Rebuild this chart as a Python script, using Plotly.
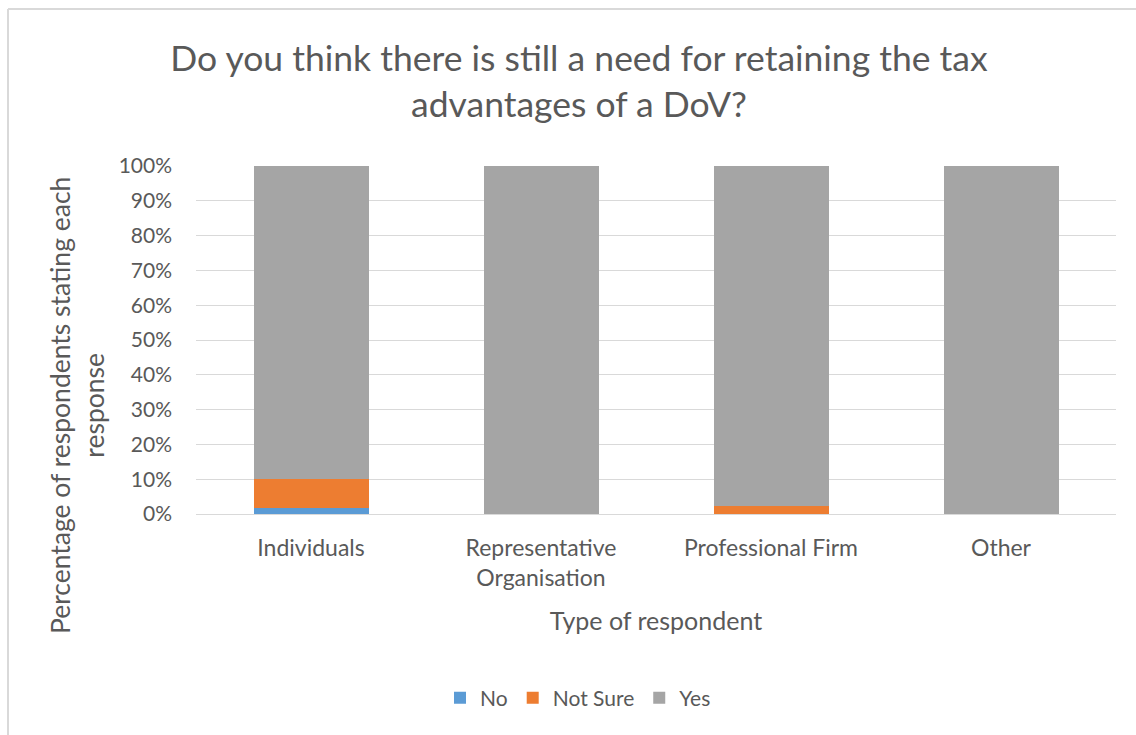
import plotly.graph_objects as go

categories = ["Individuals", "Representative<br>Organisation", "Professional Firm", "Other"]
no_pct = [1.7, 0.0, 0.0, 0.0]
not_sure_pct = [8.3, 0.0, 2.2, 0.0]
yes_pct = [90.0, 100.0, 97.8, 100.0]
tick_vals = list(range(0, 101, 10))
tick_text = [f"{v}%" for v in tick_vals]

FONT = "Lato"
TEXT = "#595959"
W, H = 1136, 735
L, R, T, B = 196, 20, 166, 221
PW, PH = W - L - R, H - T - B

fig = go.Figure()
for name, vals, color in [
    ("No", no_pct, "#5B9BD5"),
    ("Not Sure", not_sure_pct, "#ED7D31"),
    ("Yes", yes_pct, "#A5A5A5"),
]:
    fig.add_trace(go.Bar(
        x=categories, y=vals, name=name, width=0.5,
        marker=dict(color=color, line=dict(width=0)),
    ))

fig.update_layout(
    width=W, height=H,
    barmode="stack",
    bargap=0.5,
    paper_bgcolor="white",
    plot_bgcolor="white",
    margin=dict(l=L, r=R, t=T, b=B, autoexpand=False),
    font=dict(family=FONT, color=TEXT),
    title=dict(
        text="Do you think there is still a need for retaining the tax<br>advantages of a DoV?",
        x=579 / W, xref="container", xanchor="center",
        y=1 - 71 / H, yref="container", yanchor="middle",
        font=dict(family=FONT, size=35.5, color=TEXT),
    ),
    legend=dict(
        orientation="h", x=(578 - L) / PW, xanchor="center",
        y=-(698 - (H - B)) / PH, yanchor="middle",
        font=dict(family=FONT, size=21, color=TEXT),
        traceorder="normal", itemwidth=30,
    ),
    xaxis=dict(
        showgrid=False, showline=False, ticks="",
        tickfont=dict(family=FONT, size=23, color=TEXT),
        ticklabelstandoff=18,
        title=dict(text="Type of respondent", font=dict(family=FONT, size=25, color=TEXT), standoff=22),
    ),
    yaxis=dict(
        range=[0, 100], tickvals=tick_vals, ticktext=tick_text,
        showgrid=True, gridcolor="#D9D9D9", gridwidth=1,
        zeroline=True, zerolinecolor="#D9D9D9", zerolinewidth=1,
        showline=False, ticks="",
        tickfont=dict(family=FONT, size=21, color=TEXT),
        ticklabelstandoff=23,
    ),
    annotations=[dict(
        text="Percentage of respondents stating each<br>response",
        textangle=-90, xref="paper", yref="paper",
        x=-(L - 77) / PW, y=1 - (406 - T) / PH,
        xanchor="center", yanchor="middle", showarrow=False,
        font=dict(family=FONT, size=26.5, color=TEXT),
    )],
    shapes=[
        dict(type="line", xref="paper", yref="paper",
             x0=-(L - 8) / PW, x1=(W + 50 - L) / PW,
             y0=1 + (T - 9) / PH, y1=1 + (T - 9) / PH,
             line=dict(color="#D9D9D9", width=2)),
        dict(type="line", xref="paper", yref="paper",
             x0=-(L - 8) / PW, x1=-(L - 8) / PW,
             y0=1 + (T - 9) / PH, y1=-(H + 50 - (H - B)) / PH,
             line=dict(color="#D9D9D9", width=2)),
    ],
)

fig.write_html("out.html")
